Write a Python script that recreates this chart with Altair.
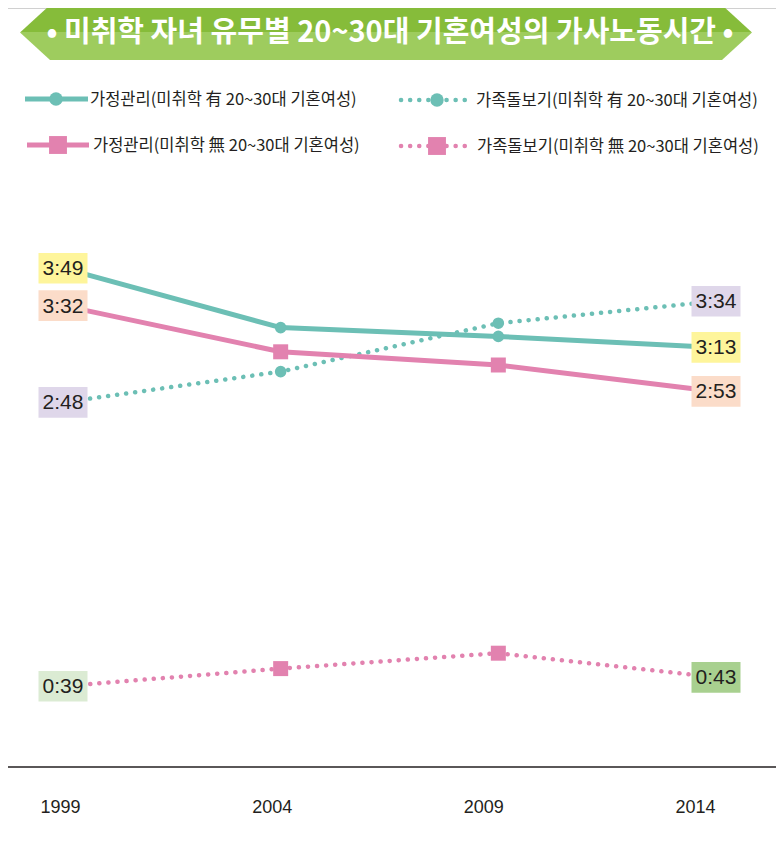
import altair as alt
import pandas as pd

# ---------------- data ----------------
years = [1999, 2004, 2009, 2014]
series = [
    "가정관리(미취학 有 20~30대 기혼여성)",
    "가족돌보기(미취학 有 20~30대 기혼여성)",
    "가정관리(미취학 無 20~30대 기혼여성)",
    "가족돌보기(미취학 無 20~30대 기혼여성)",
]
# minutes per day
home_with = [229, 202, 198, 193]
care_with = [168, 182, 204, 214]
home_without = [212, 191, 185, 173]
care_without = [39, 47, 54, 43]
values = [home_with, care_with, home_without, care_without]
title_text = "• 미취학 자녀 유무별 20~30대 기혼여성의 가사노동시간 •"

# ---------------- styles ----------------
TEAL = "#6CBFB5"
PINK = "#E282AF"
style = {
    series[0]: dict(color=TEAL, dotted=False, shape="circle",
                    box={1999: "#FEF59B", 2014: "#FEF59B"}),
    series[1]: dict(color=TEAL, dotted=True, shape="circle",
                    box={1999: "#DFD7EA", 2014: "#DFD7EA"}),
    series[2]: dict(color=PINK, dotted=False, shape="square",
                    box={1999: "#FBDCC9", 2014: "#FBDCC9"}),
    series[3]: dict(color=PINK, dotted=True, shape="square",
                    box={1999: "#DBEBD3", 2014: "#A8D08F"}),
}
KFONT = "Noto Sans CJK KR"
NFONT = "Liberation Sans"
M = 8  # page margin


def fmt(m):
    return f"{m // 60}:{m % 60:02d}"


rows = []
for s, vals in zip(series, values):
    for y, v in zip(years, vals):
        rows.append(dict(series=s, year=y, minutes=v, label=fmt(v),
                         box=style[s]["box"].get(y, "#ffffff")))
df = pd.DataFrame(rows)
one = pd.DataFrame({"k": [0]})

xs = alt.Scale(domain=[1999, 2014], range=[63 - M, 716 - M], nice=False, zero=False)
ys = alt.Scale(domain=[0, 240], range=[772 - M, 244 - M], nice=False)
X = alt.X("year:Q", scale=xs, axis=None)
Y = alt.Y("minutes:Q", scale=ys, axis=None)

layers = []

# ---------------- banner ----------------
layers.append(
    alt.Chart(one).mark_rule(color="#D0D0D0", strokeWidth=1)
    .encode(x=alt.value(-M), x2=alt.value(784), y=alt.value(0.5))
)
grad = alt.Gradient(
    gradient="linear",
    stops=[alt.GradientStop(color="#86BC3A", offset=0),
           alt.GradientStop(color="#86BC3A", offset=0.5),
           alt.GradientStop(color="#9ECC5E", offset=0.5),
           alt.GradientStop(color="#9ECC5E", offset=1)],
    x1=0, x2=0, y1=0, y2=1,
)
bw = 732
banner_path = "M-1,0 L-0.918,-0.0751 L0.918,-0.0751 L1,0 L0.918,0.0751 L-0.918,0.0751 Z"
layers.append(
    alt.Chart(one).mark_point(shape=banner_path, size=bw * bw, filled=True, fill=grad,
                              strokeWidth=0, opacity=1)
    .encode(x=alt.value(386 - M), y=alt.value(32.5 - M))
)
layers.append(
    alt.Chart(one).mark_text(text=title_text, font=KFONT, fontSize=29, fontWeight="bold",
                             color="white", align="center", baseline="middle")
    .encode(x=alt.value(390 - M), y=alt.value(33 - M))
)

# ---------------- legend ----------------
legend_pos = [
    dict(x1=25, x2=88, sx=56, y=99, tx=90),
    dict(x1=401, x2=468, sx=437, y=100, tx=476),
    dict(x1=27, x2=89, sx=58, y=145, tx=93),
    dict(x1=401, x2=469, sx=437, y=146, tx=477),
]
for s, p in zip(series, legend_pos):
    st = style[s]
    rule_kw = dict(color=st["color"], strokeCap="round")
    if st["dotted"]:
        rule_kw.update(strokeWidth=4.5, strokeDash=[0.1, 9])
    else:
        rule_kw.update(strokeWidth=5, strokeCap="butt")
    layers.append(
        alt.Chart(one).mark_rule(**rule_kw)
        .encode(x=alt.value(p["x1"] - M), x2=alt.value(p["x2"] - M), y=alt.value(p["y"] - M))
    )
    size = 180 if st["shape"] == "circle" else 320
    layers.append(
        alt.Chart(one).mark_point(shape=st["shape"], size=size, filled=True, opacity=1,
                                  color=st["color"], strokeWidth=0)
        .encode(x=alt.value(p["sx"] - M), y=alt.value(p["y"] - M))
    )
    layers.append(
        alt.Chart(one).mark_text(text=s, font=KFONT, fontSize=16.5, color="#231F20",
                                 align="left", baseline="middle")
        .encode(x=alt.value(p["tx"] - M), y=alt.value(p["y"] + 1 - M))
    )

# ---------------- lines ----------------
for s in series:
    st = style[s]
    sub = df[df.series == s]
    if st["dotted"]:
        mk = alt.Chart(sub).mark_line(color=st["color"], strokeWidth=4.5,
                                      strokeDash=[0.1, 9], strokeCap="round")
    else:
        mk = alt.Chart(sub).mark_line(color=st["color"], strokeWidth=5)
    layers.append(mk.encode(x=X, y=Y))

# ---------------- markers at middle years ----------------
for s in series:
    st = style[s]
    sub = df[(df.series == s) & (df.year.isin([2004, 2009]))]
    size = 135 if st["shape"] == "circle" else 225
    layers.append(
        alt.Chart(sub).mark_point(shape=st["shape"], size=size, filled=True, opacity=1,
                                  color=st["color"], strokeWidth=0)
        .encode(x=X, y=Y)
    )

# ---------------- end labels ----------------
ends = df[df.year.isin([1999, 2014])]
box_path = "M-1,-0.625 L1,-0.625 L1,0.625 L-1,0.625 Z"
layers.append(
    alt.Chart(ends).mark_point(shape=box_path, size=49 * 49, filled=True, opacity=1,
                               strokeWidth=0)
    .encode(x=X, y=Y, fill=alt.Fill("box:N", scale=None, legend=None))
)
layers.append(
    alt.Chart(ends).mark_text(font=NFONT, fontSize=21, color="#231F20",
                              align="center", baseline="middle", dy=1)
    .encode(x=X, y=Y, text="label:N")
)

# ---------------- x axis ----------------
layers.append(
    alt.Chart(one).mark_rule(color="#231F20", strokeWidth=1.3)
    .encode(x=alt.value(-M), x2=alt.value(784), y=alt.value(767 - M))
)
ydf = pd.DataFrame({"year": years})
layers.append(
    alt.Chart(ydf).mark_text(font=NFONT, fontSize=18, color="#231F20",
                             align="center", baseline="middle")
    .encode(x=alt.X("year:Q", axis=None,
                    scale=alt.Scale(domain=[1999, 2014], range=[60.5 - M, 695.5 - M],
                                    nice=False, zero=False)),
            y=alt.value(808 - M), text="year:N")
)

chart = (
    alt.layer(*layers)
    .resolve_scale(x="independent")
    .properties(width=768, height=832, autosize=alt.AutoSizeParams(type="none"), padding=0,
                background="white")
    .configure_view(stroke=None)
)

chart.save("out.html", embed_options={"renderer": "svg", "actions": False})
